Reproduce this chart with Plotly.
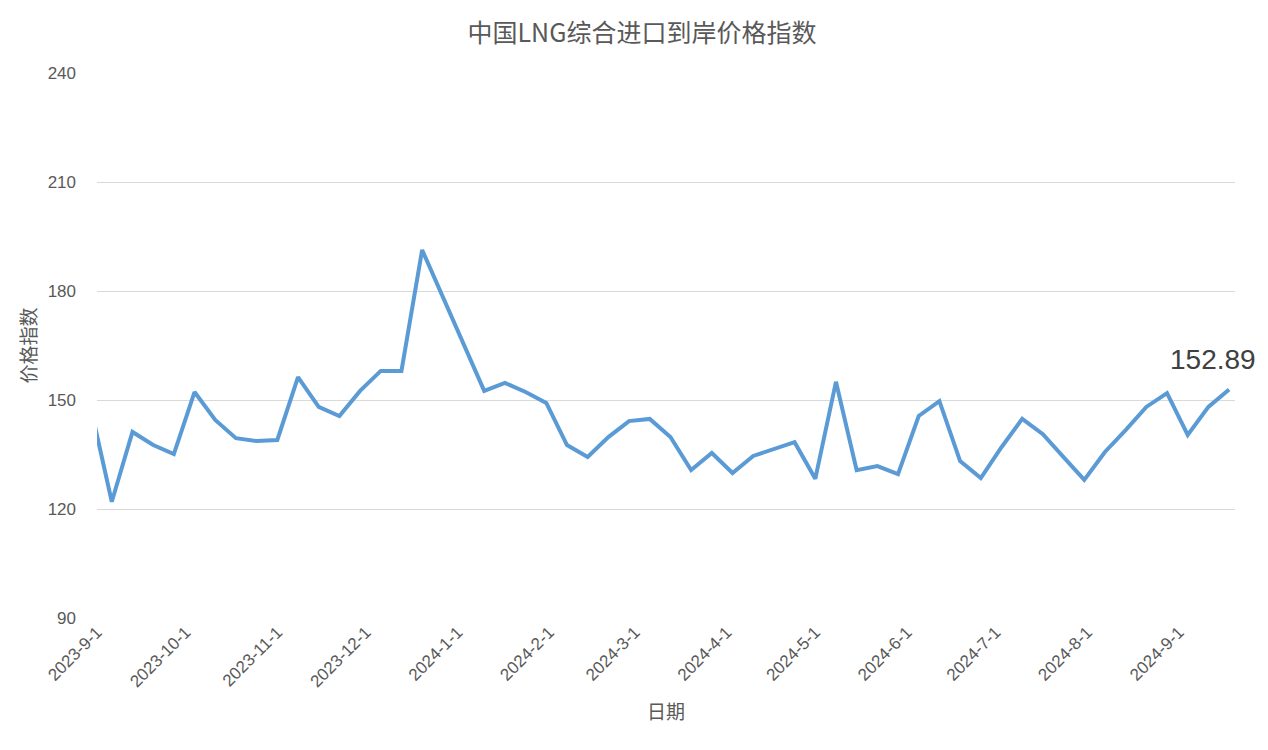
import plotly.graph_objects as go
import pandas as pd

dates = pd.date_range("2023-08-30", periods=56, freq="7D")
values = [147.5, 122, 141.2, 137.6, 135.1, 152.2, 144.5, 139.5, 138.7, 139,
          156.3, 148.1, 145.6, 152.5, 158, 158, 191.3, 178.4, 165.4, 152.5,
          154.7, 152.2, 149.2, 137.6, 134.3, 139.8, 144.2, 144.8, 139.8, 130.7,
          135.4, 129.9, 134.6, 136.5, 138.4, 128.3, 155, 130.7, 131.8, 129.6,
          145.6, 149.7, 133.2, 128.5, 137, 144.8, 140.6, 134.3, 128, 135.7,
          141.7, 148.1, 151.9, 140.4, 148.1, 152.89]
tick_vals = pd.date_range("2023-09-01", "2024-09-01", freq="MS")
tick_text = [f"{d.year}-{d.month}-1" for d in tick_vals]

fig = go.Figure(go.Scatter(x=dates, y=values, mode="lines",
                           line=dict(color="#5B9BD5", width=4), cliponaxis=True))
fig.add_annotation(x=dates[-1], y=values[-1], text=f"{values[-1]:.2f}", showarrow=False,
                   yshift=30, xshift=-16, font=dict(size=28, color="#404040", family="Liberation Sans"))
fig.update_layout(
    width=1268, height=750, plot_bgcolor="white", paper_bgcolor="white",
    margin=dict(l=89, r=41, t=65, b=140), showlegend=False,
    title=dict(text="中国LNG综合进口到岸价格指数", x=0.5, xanchor="center", y=0.978,
               font=dict(size=25, color="#595959", family="Noto Sans CJK SC")),
    font=dict(family="Liberation Sans", color="#595959"),
)
fig.update_xaxes(range=[pd.Timestamp("2023-09-01"), dates[-1] + pd.Timedelta(days=2)],
                 tickvals=tick_vals, ticktext=tick_text, tickangle=-45,
                 tickfont=dict(size=17), showgrid=False, ticks="",
                 title=dict(text="日期", font=dict(size=19, family="Noto Sans CJK SC")))
fig.update_yaxes(range=[90, 240], dtick=30, gridcolor="#D9D9D9", zeroline=False,
                 tickfont=dict(size=17), ticklabelstandoff=20,
                 title=dict(text="价格指数", font=dict(size=19, family="Noto Sans CJK SC"), standoff=5))
fig.write_html("out.html")
